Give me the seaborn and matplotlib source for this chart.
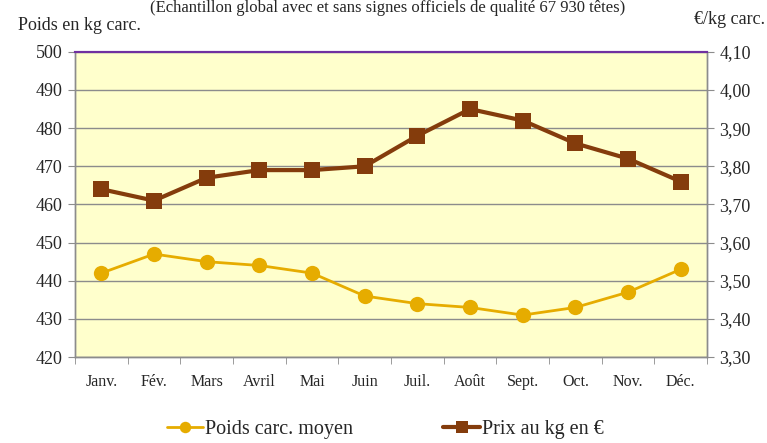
import pandas as pd
import matplotlib.pyplot as plt
import seaborn as sns
from matplotlib.ticker import FixedLocator, FuncFormatter

# Données mensuelles
mois = ["Janv.", "Fév.", "Mars", "Avril", "Mai", "Juin",
        "Juil.", "Août", "Sept.", "Oct.", "Nov.", "Déc."]
poids = [442, 447, 445, 444, 442, 436, 434, 433, 431, 433, 437, 443]
prix = [3.74, 3.71, 3.77, 3.79, 3.79, 3.80, 3.88, 3.95, 3.92, 3.86, 3.82, 3.76]

df = pd.DataFrame({"pos": range(len(mois)), "mois": mois, "poids": poids, "prix": prix})

sns.set_style("white")
plt.rcParams["font.family"] = ["Liberation Serif", "DejaVu Serif"]

fig = plt.figure(figsize=(7.67, 4.43), dpi=100)
ax = fig.add_axes([0.0978, 0.194, 0.824, 0.689])
ax.set_facecolor("#FFFFCC")

jaune = "#E6AC00"
brun = "#843C0C"

sns.lineplot(data=df, x="pos", y="poids", ax=ax, color=jaune, linewidth=2,
             marker="o", markersize=11, markeredgewidth=0, label="Poids carc. moyen",
             legend=False)
ax.set_ylim(420, 500)
ax.set_yticks(range(420, 501, 10))
ax.grid(axis="y", color="#8C8C8C", linewidth=1)
ax.set_axisbelow(True)

ax2 = ax.twinx()
sns.lineplot(data=df, x="pos", y="prix", ax=ax2, color=brun, linewidth=3,
             marker="s", markersize=11, markeredgewidth=0, label="Prix au kg en €",
             legend=False)
ax2.set_ylim(3.30, 4.10)
ax2.set_yticks([3.3 + 0.1 * i for i in range(9)])
ax2.yaxis.set_major_formatter(FuncFormatter(lambda v, p: f"{v:.2f}".replace(".", ",")))

ax.set_xlim(-0.5, len(mois) - 0.5)
ax.xaxis.set_major_locator(FixedLocator(range(len(mois))))
ax.set_xticklabels(mois)
ax.xaxis.set_minor_locator(FixedLocator([i - 0.5 for i in range(len(mois) + 1)]))
ax.tick_params(axis="x", which="major", length=0, labelsize=11.5, pad=12)
ax.tick_params(axis="x", which="minor", length=5, color="#8C8C8C", bottom=True)
ax.tick_params(axis="y", length=5, color="#8C8C8C", left=True, labelsize=13, pad=4)
ax2.tick_params(axis="y", length=5, color="#8C8C8C", right=True, labelsize=13, pad=4)
ax.set_xlabel("")
ax.set_ylabel("")
ax2.set_ylabel("")

for a in (ax, ax2):
    for s in ("left", "right", "bottom"):
        a.spines[s].set_color("#8C8C8C")
        a.spines[s].set_linewidth(1)
    a.spines["top"].set_color("#7030A0")
    a.spines["top"].set_linewidth(1.5)

fig.text(0.505, 0.999, "(Echantillon global avec et sans signes officiels de qualité 67 930 têtes)",
         ha="center", va="top", fontsize=12)
fig.text(0.023, 0.943, "Poids en kg carc.", ha="left", va="center", fontsize=13)
fig.text(0.997, 0.955, "€/kg carc.", ha="right", va="center", fontsize=13)

h1, l1 = ax.get_legend_handles_labels()
h2, l2 = ax2.get_legend_handles_labels()
fig.legend(h1 + h2, l1 + l2, loc="center", bbox_to_anchor=(0.502, 0.03), ncol=2,
           frameon=False, fontsize=14.5, handlelength=1.8, handletextpad=0.1,
           columnspacing=4.5, markerscale=0.75, borderpad=0.2)

fig.savefig("out.png", dpi=100)
